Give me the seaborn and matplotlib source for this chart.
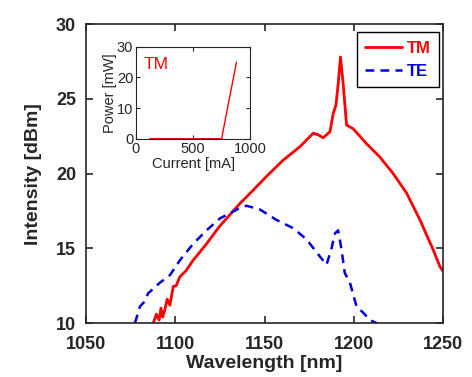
import matplotlib
matplotlib.use("Agg")
import matplotlib.pyplot as plt
import seaborn as sns

# main spectra
tm_wl = [1087.7, 1089.5, 1091.0, 1092.0, 1093.0, 1094.2, 1095.5, 1097.0, 1098.9, 1100.5,
         1102.6, 1106.0, 1110.0, 1117.5, 1125.0, 1136.2, 1143.7, 1151.0, 1160.4, 1169.8,
         1177.2, 1180.0, 1182.8, 1186.6, 1188.4, 1190.0, 1191.2, 1192.5, 1194.0, 1195.9,
         1199.6, 1207.1, 1214.6, 1222.0, 1229.5, 1237.0, 1244.4, 1248.1, 1250.0]
tm_db = [10.0, 10.6, 10.2, 11.0, 10.4, 10.9, 11.6, 11.2, 12.45, 12.5,
         13.1, 13.5, 14.2, 15.3, 16.5, 18.0, 18.9, 19.8, 20.9, 21.8,
         22.7, 22.6, 22.4, 22.8, 24.0, 24.6, 26.0, 27.8, 26.0, 23.25,
         23.0, 22.0, 21.1, 20.0, 18.7, 16.9, 14.9, 13.8, 13.45]

te_wl = [1077.4, 1079.0, 1080.2, 1082.5, 1084.9, 1091.4, 1097.0, 1102.6, 1110.0, 1117.5,
         1125.0, 1136.2, 1139.9, 1147.4, 1156.7, 1166.0, 1173.5, 1181.0, 1184.7, 1187.5,
         1189.4, 1191.2, 1193.1, 1194.9, 1197.8, 1201.5, 1205.2, 1209.0, 1212.7, 1216.0]
te_db = [10.0, 10.6, 11.1, 11.4, 12.0, 12.7, 13.2, 14.2, 15.3, 16.2,
         17.0, 17.7, 17.85, 17.6, 16.9, 16.35, 15.6, 14.45, 13.9, 15.0,
         16.0, 16.2, 14.9, 13.35, 12.7, 11.1, 10.7, 10.2, 10.0, 9.8]

# inset L-I curve
cur_ma = [120, 750, 880]
pow_mw = [0, 0, 25]

sns.set_style("ticks")
plt.rcParams["font.family"] = ["Liberation Sans", "DejaVu Sans"]
plt.rcParams["xtick.direction"] = "in"
plt.rcParams["ytick.direction"] = "in"

fig = plt.figure(figsize=(4.72, 3.77), dpi=100)
ax = fig.add_axes([0.182, 0.143, 0.757, 0.793])

sns.lineplot(x=tm_wl, y=tm_db, ax=ax, color="#ff0000", lw=2.0, sort=False, label="TM")
sns.lineplot(x=te_wl, y=te_db, ax=ax, color="#0000e0", lw=1.8, sort=False, label="TE",
             dashes=False, linestyle=(0, (3.5, 2.5)))

ax.set_xlim(1050, 1250)
ax.set_ylim(10, 30)
ax.set_xticks([1050, 1100, 1150, 1200, 1250])
ax.set_yticks([10, 15, 20, 25, 30])
ax.tick_params(top=True, right=True, length=5, width=1.2, labelsize=13)
ax.tick_params(axis="x", pad=9)
ax.tick_params(axis="y", pad=7)
for lab in ax.get_xticklabels() + ax.get_yticklabels():
    lab.set_fontweight("bold")
for s in ax.spines.values():
    s.set_linewidth(1.2)
ax.set_xlabel("Wavelength [nm]", fontsize=14, fontweight="bold", labelpad=2)
ax.set_ylabel("Intensity [dBm]", fontsize=14, fontweight="bold", labelpad=10)

leg = ax.legend(loc="upper right", fancybox=False, edgecolor="black", framealpha=1,
                handlelength=2.2, handletextpad=0.3, borderpad=0.5, labelspacing=0.5,
                borderaxespad=0, prop={"weight": "bold", "size": 12}, labelcolor="linecolor",
                bbox_to_anchor=(0.989, 0.972))
leg.get_frame().set_linewidth(1.0)

ins = fig.add_axes([0.288, 0.632, 0.242, 0.244])
sns.lineplot(x=cur_ma, y=pow_mw, ax=ins, color="#ff0000", lw=1.0)
ins.set_xlim(0, 1000)
ins.set_ylim(0, 30)
ins.set_xticks([0, 500, 1000])
ins.set_yticks([0, 10, 20, 30])
ins.tick_params(top=True, right=True, length=3, labelsize=10.5, pad=2)
ins.set_xlabel("Current [mA]", fontsize=10.5, labelpad=1)
ins.set_ylabel("Power [mW]", fontsize=10.5, labelpad=0)
ins.text(0.07, 0.76, "TM", color="#ff0000", fontsize=12.5, transform=ins.transAxes)

fig.savefig("out.png", dpi=100)
